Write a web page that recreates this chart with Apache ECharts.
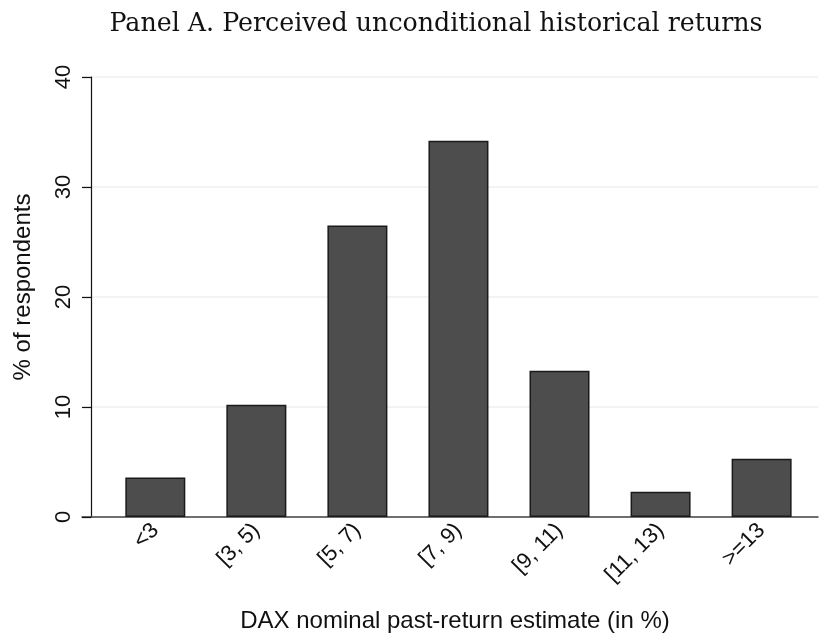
<!DOCTYPE html>
<html>
<head>
<meta charset="utf-8">
<script src="https://cdn.jsdelivr.net/npm/echarts@6/dist/echarts.min.js"></script>
<style>
html,body{margin:0;padding:0;background:#fff;}
#chart{width:820px;height:638px;}
</style>
</head>
<body>
<div id="chart"></div>
<script>
const categories = ['<3', '[3, 5)', '[5, 7)', '[7, 9)', '[9, 11)', '[11, 13)', '>=13'];
const percentRespondents = [3.6, 10.2, 26.5, 34.2, 13.3, 2.3, 5.3];
const yTicks = [0, 10, 20, 30, 40];

const chart = echarts.init(document.getElementById('chart'), null, {renderer: 'canvas'});
const barData = percentRespondents.map((v, i) => [i, v]);

chart.setOption({
  animation: false,
  backgroundColor: '#ffffff',
  title: {
    text: 'Panel A. Perceived unconditional historical returns',
    left: 431, top: 7, textAlign: 'center',
    textStyle: {fontFamily: 'DejaVu Serif', fontWeight: 'normal', fontSize: 25.3, color: '#111'}
  },
  grid: {left: 82, right: 2, top: 77, bottom: 120, containLabel: false},
  xAxis: {
    type: 'value',
    min: -0.7255, max: 6.558,
    name: 'DAX nominal past-return estimate (in %)',
    nameLocation: 'middle', nameGap: 92,
    nameTextStyle: {fontFamily: 'Liberation Sans', fontSize: 24, color: '#111', padding: [0, 0, 0, 10]},
    axisLine: {show: true, onZero: false, lineStyle: {color: '#444', width: 1.5}},
    axisTick: {show: false},
    splitLine: {show: false},
    axisLabel: {
      customValues: categories.map((c, i) => i),
      formatter: v => categories[Math.round(v)],
      rotate: 45, margin: 10,
      fontFamily: 'Liberation Sans', fontSize: 22, color: '#111'
    }
  },
  yAxis: {
    type: 'value', min: yTicks[0], max: yTicks[yTicks.length - 1], interval: 10,
    offset: -9,
    name: '% of respondents',
    nameLocation: 'middle', nameGap: 56,
    nameTextStyle: {fontFamily: 'Liberation Sans', fontSize: 24, color: '#111', padding: [0, 0, 0, 20]},
    axisLine: {show: true, onZero: false, lineStyle: {color: '#111', width: 1.2}},
    axisTick: {show: true, length: 9, lineStyle: {color: '#111', width: 1.2}},
    splitLine: {show: true, lineStyle: {color: '#eaf0f3', width: 1.5}},
    axisLabel: {rotate: 90, margin: 16, fontFamily: 'Liberation Sans', fontSize: 22, color: '#111'}
  },
  series: [{
    type: 'bar',
    data: barData,
    barWidth: 60,
    itemStyle: {color: '#4d4d4d', borderColor: '#1a1a1a', borderWidth: 1.5}
  }]
});
</script>
</body>
</html>
